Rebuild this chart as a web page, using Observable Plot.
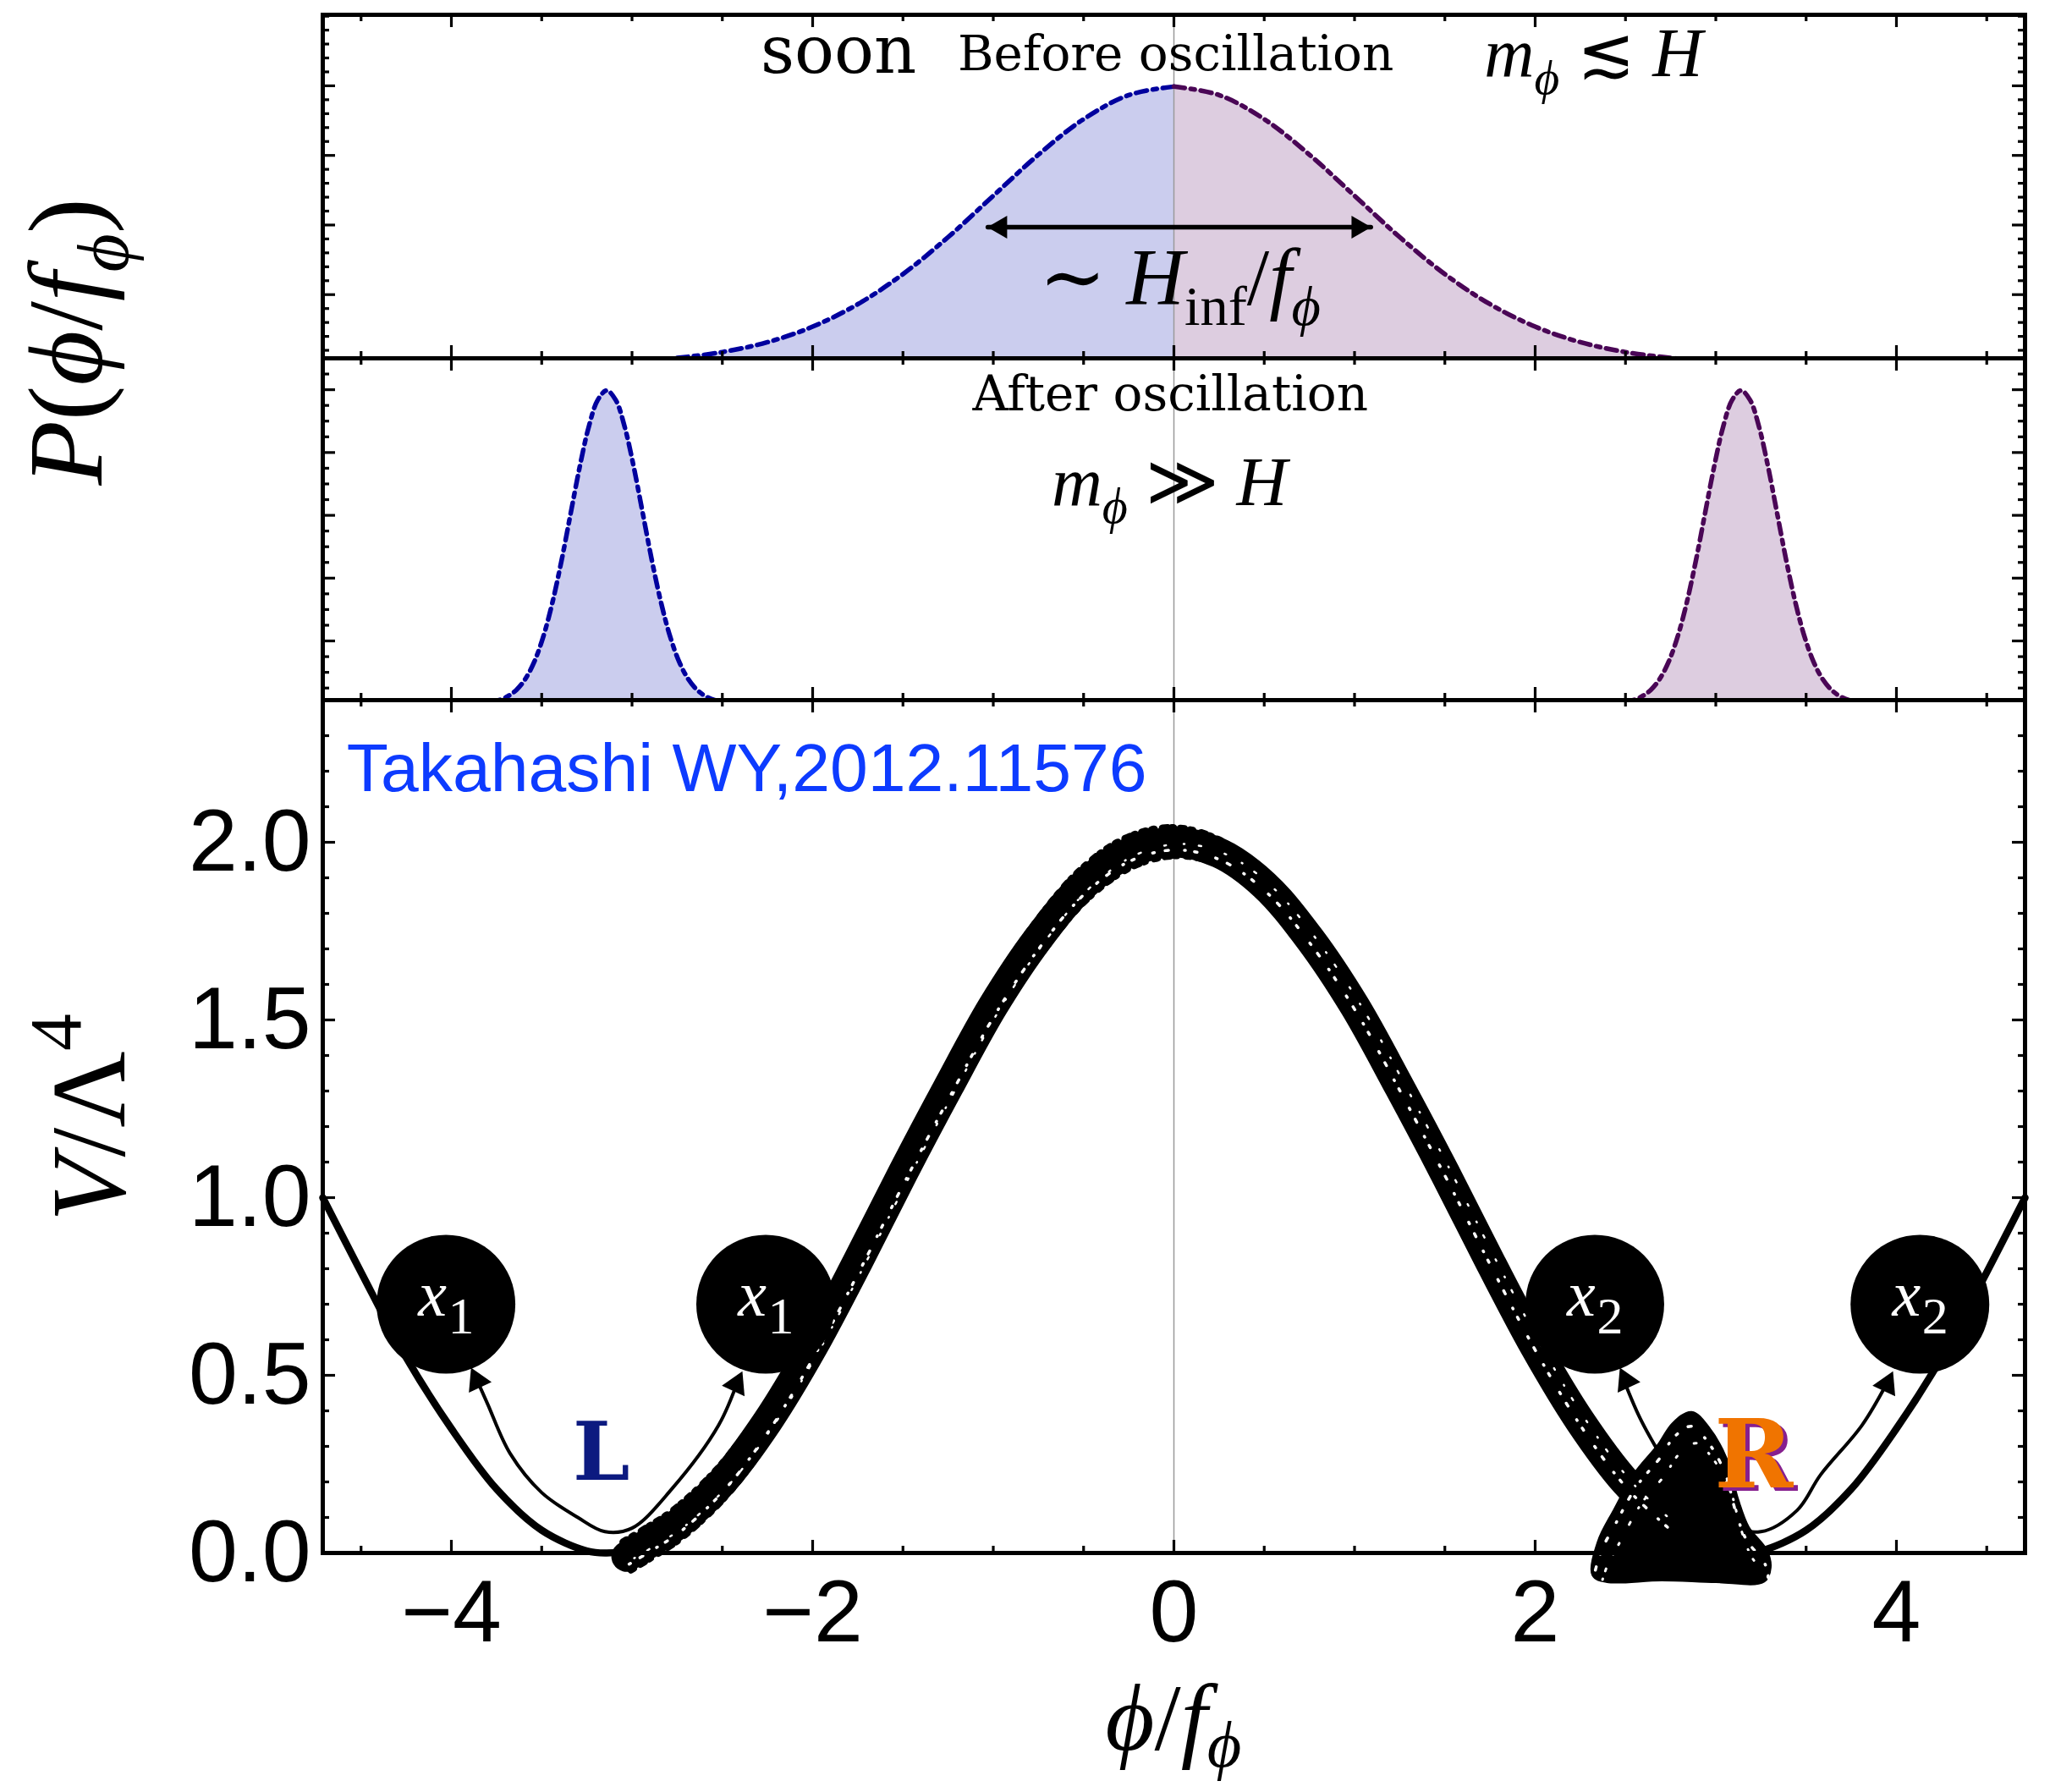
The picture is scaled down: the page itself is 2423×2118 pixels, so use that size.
<!DOCTYPE html>
<html>
<head>
<meta charset="utf-8">
<script src="https://cdn.jsdelivr.net/npm/d3@7"></script>
<script src="https://cdn.jsdelivr.net/npm/@observablehq/plot@0.6"></script>
<style>
  html, body { margin: 0; padding: 0; background: #ffffff; }
  #root { position: relative; width: 2423px; height: 2118px; overflow: hidden; background: #ffffff; }
  #root > svg { position: absolute; left: 0; }
  g[aria-label="typewriter"] text { letter-spacing: 5.5px; }
</style>
</head>
<body>
<div id="root"></div>
<script>
// ================= DATA =================
const xDomain = [-4.712, 4.712];

// Top panel: distribution before oscillation
const beforeX_L = [-2.9, -2.75, -2.5, -2.25, -2, -1.75, -1.5, -1.25, -1, -0.75, -0.5, -0.25, 0];
const beforeP_L = [0.0060, 0.0091, 0.0175, 0.0317, 0.0540, 0.0863, 0.1295, 0.1826, 0.2420, 0.3011, 0.3521, 0.3867, 0.3989];
const beforeX_R = [0, 0.25, 0.5, 0.75, 1, 1.25, 1.5, 1.75, 2, 2.25, 2.5, 2.75, 2.9];
const beforeP_R = [0.3989, 0.3867, 0.3521, 0.3011, 0.2420, 0.1826, 0.1295, 0.0863, 0.0540, 0.0317, 0.0175, 0.0091, 0.0060];
const spreadX = [-1.03, 1.09];     // double arrow ends
const spreadP = 0.197;             // double arrow height

// Middle panel: distribution after oscillation
const afterX_L = [-3.79, -3.74, -3.69, -3.64, -3.59, -3.54, -3.49, -3.44, -3.39, -3.34, -3.29, -3.24, -3.19, -3.14, -3.09, -3.04, -2.99, -2.94, -2.89, -2.84, -2.79, -2.74, -2.69, -2.64, -2.59, -2.54, -2.49];
const afterP_L = [0.010, 0.022, 0.046, 0.088, 0.159, 0.270, 0.432, 0.648, 0.913, 1.210, 1.506, 1.761, 1.934, 1.995, 1.934, 1.761, 1.506, 1.210, 0.913, 0.648, 0.432, 0.270, 0.159, 0.088, 0.046, 0.022, 0.010];
const afterX_R = [2.49, 2.54, 2.59, 2.64, 2.69, 2.74, 2.79, 2.84, 2.89, 2.94, 2.99, 3.04, 3.09, 3.14, 3.19, 3.24, 3.29, 3.34, 3.39, 3.44, 3.49, 3.54, 3.59, 3.64, 3.69, 3.74, 3.79];
const afterP_R = [0.010, 0.022, 0.046, 0.088, 0.159, 0.270, 0.432, 0.648, 0.913, 1.210, 1.506, 1.761, 1.934, 1.995, 1.934, 1.761, 1.506, 1.210, 0.913, 0.648, 0.432, 0.270, 0.159, 0.088, 0.046, 0.022, 0.010];

// Bottom panel: potential V/Λ^4
const potX = [-4.712, -4.5, -4.25, -4, -3.75, -3.5, -3.25, -3.14, -3, -2.75, -2.5, -2.25, -2, -1.75, -1.5, -1.25, -1, -0.75, -0.5, -0.25, 0, 0.25, 0.5, 0.75, 1, 1.25, 1.5, 1.75, 2, 2.25, 2.5, 2.75, 3, 3.14, 3.25, 3.5, 3.75, 4, 4.25, 4.5, 4.712];
const potV = [1.0, 0.79, 0.55, 0.35, 0.18, 0.064, 0.006, 0, 0.01, 0.076, 0.2, 0.37, 0.58, 0.82, 1.07, 1.32, 1.54, 1.73, 1.88, 1.97, 2.0, 1.97, 1.88, 1.73, 1.54, 1.32, 1.07, 0.82, 0.58, 0.37, 0.2, 0.076, 0.01, 0, 0.006, 0.064, 0.18, 0.35, 0.55, 0.79, 1.0];

// hand-drawn trajectory (scribble) along the potential
const scribX = [-3.03, -2.9, -2.75, -2.5, -2.25, -2, -1.75, -1.5, -1.25, -1, -0.75, -0.5, -0.25, 0, 0.25, 0.5, 0.75, 1, 1.25, 1.5, 1.75, 2, 2.25, 2.5, 2.75];
const scribV = [-0.01, 0.03, 0.08, 0.2, 0.37, 0.58, 0.82, 1.07, 1.31, 1.54, 1.73, 1.88, 1.97, 2.0, 1.97, 1.88, 1.73, 1.54, 1.31, 1.07, 0.82, 0.58, 0.37, 0.2, 0.08];
// blob of the trajectory near the right minimum
const blobX = [2.33, 2.36, 2.45, 2.56, 2.69, 2.77, 2.865, 2.95, 3.05, 3.11, 3.17, 3.27, 3.29, 3.26, 3.0, 2.7, 2.4];
const blobV = [-0.06, 0.03, 0.12, 0.22, 0.30, 0.36, 0.39, 0.35, 0.26, 0.15, 0.07, 0.005, -0.04, -0.075, -0.075, -0.07, -0.075];

// curved arrows from the minima to the circles
const arrowLX = [-3.87, -3.80, -3.675, -3.5, -3.30, -3.15, -3.0, -2.78, -2.52, -2.41];
const arrowLV = [0.50, 0.42, 0.28, 0.17, 0.10, 0.06, 0.07, 0.18, 0.36, 0.49];
const arrowRX = [2.48, 2.58, 2.70, 2.85, 3.0, 3.25, 3.45, 3.58, 3.81, 3.96];
const arrowRV = [0.50, 0.38, 0.27, 0.15, 0.09, 0.06, 0.12, 0.22, 0.36, 0.49];
const headLeftX = [-3.89, 2.47];   // heads pointing up-left
const headLeftV = [0.52, 0.52];
const headRightX = [-2.39, 3.98];  // heads pointing up-right
const headRightV = [0.51, 0.51];

// labelled circles
const circleX = [-4.03, -2.26, 2.33, 4.13];
const circleV = [0.70, 0.70, 0.70, 0.70];
const circleSub = ["1", "1", "2", "2"];

// ticks
const xMajorTicks = [-4, -2, 0, 2, 4];
const xMinorTicks = [-4.5, -3.5, -3, -2.5, -1.5, -1, -0.5, 0.5, 1, 1.5, 2.5, 3, 3.5, 4.5];
const xTickLabels = ["\u22124", "\u22122", "0", "2", "4"];
const yTopMajor = [0.1, 0.2, 0.3, 0.4];
const yTopMinor = [0.02, 0.04, 0.06, 0.08, 0.12, 0.14, 0.16, 0.18, 0.22, 0.24, 0.26, 0.28, 0.32, 0.34, 0.36, 0.38, 0.42, 0.44, 0.46, 0.48, 0.5];
const yMidMajor = [0.4, 0.8, 1.2, 1.6, 2.0];
const yMidMinor = [0.1, 0.2, 0.3, 0.5, 0.6, 0.7, 0.9, 1.0, 1.1, 1.3, 1.4, 1.5, 1.7, 1.8, 1.9, 2.1, 2.2];
const yBotMajor = [0, 0.5, 1, 1.5, 2];
const yBotMinor = [0.1, 0.2, 0.3, 0.4, 0.6, 0.7, 0.8, 0.9, 1.1, 1.2, 1.3, 1.4, 1.6, 1.7, 1.8, 1.9, 2.1, 2.2, 2.3, 2.4];
const yBotLabels = ["0.0", "0.5", "1.0", "1.5", "2.0"];

// ================= LAYOUT & STYLE =================
const W = 2423, H = 2118;
const ML = 381, MR = 30, innerW = W - ML - MR;
const topA = 0, hA = 423, mtA = 17, innerHA = hA - mtA;
const topB = 423, hB = 404, innerHB = hB;
const topC = 827, innerHC = 1008, hC = H - topC, mbC = hC - innerHC;

const blue = "#00009e", purple = "#4a0656";
const fillBlue = "#cbcdee", fillPurple = "#ddcde0";
const gray = "#9a9a9a";
const dash = "13,7,5,7";
const serif = "'Liberation Serif', 'Times New Roman', 'DejaVu Serif', serif";
const sans = "'Liberation Sans', Arial, Helvetica, sans-serif";
const typew = "'DejaVu Serif', serif";
const baseStyle = {background: "transparent", overflow: "visible", fontFamily: sans};

const pts = (xs, ys) => xs.map((x, i) => ({x, y: ys[i]}));

function frameTicks(yMaj, yMin, innerH) {
  const o = {stroke: "black", strokeWidth: 3.2};
  const maj = 15, min = 8;
  return [
    Plot.tickX(xMajorTicks, {x: d => d, insetTop: innerH - maj, ...o}),
    Plot.tickX(xMajorTicks, {x: d => d, insetBottom: innerH - maj, ...o}),
    Plot.tickX(xMinorTicks, {x: d => d, insetTop: innerH - min, ...o}),
    Plot.tickX(xMinorTicks, {x: d => d, insetBottom: innerH - min, ...o}),
    Plot.tickY(yMaj, {y: d => d, insetRight: innerW - maj, ...o}),
    Plot.tickY(yMaj, {y: d => d, insetLeft: innerW - maj, ...o}),
    Plot.tickY(yMin, {y: d => d, insetRight: innerW - min, ...o}),
    Plot.tickY(yMin, {y: d => d, insetLeft: innerW - min, ...o}),
    Plot.frame({stroke: "black", strokeWidth: 5})
  ];
}

// ================= TOP PANEL =================
const topLeft = pts(beforeX_L, beforeP_L), topRight = pts(beforeX_R, beforeP_R);
const A = Plot.plot({
  width: W, height: hA, marginTop: mtA, marginBottom: 0, marginLeft: ML, marginRight: MR,
  x: {domain: xDomain, axis: null},
  y: {domain: [0.0085, 0.502], axis: null},
  style: baseStyle,
  marks: [
    Plot.areaY(topLeft, {x: "x", y: "y", fill: fillBlue, curve: "catmull-rom", clip: true}),
    Plot.areaY(topRight, {x: "x", y: "y", fill: fillPurple, curve: "catmull-rom", clip: true}),
    Plot.ruleX([0], {stroke: gray, strokeWidth: 1.5}),
    Plot.line(topLeft, {x: "x", y: "y", stroke: blue, strokeWidth: 5.5, strokeDasharray: dash, curve: "catmull-rom", clip: true}),
    Plot.line(topRight, {x: "x", y: "y", stroke: purple, strokeWidth: 5.5, strokeDasharray: dash, curve: "catmull-rom", clip: true}),
    Plot.line(spreadX, {x: d => d, y: () => spreadP, stroke: "black", strokeWidth: 5.5}),
    Plot.dot([spreadX[0]], {x: d => d, y: () => spreadP, symbol: "triangle", r: 10, rotate: -90, dx: 15, fill: "black", stroke: "none"}),
    Plot.dot([spreadX[1]], {x: d => d, y: () => spreadP, symbol: "triangle", r: 10, rotate: 90, dx: -15, fill: "black", stroke: "none"}),
    Plot.text(["soon"], {x: () => -1.857, y: () => 0.419, text: d => d, lineAnchor: "bottom", fontSize: 78, fontFamily: typew}),
    Plot.text(["Before oscillation"], {x: () => 0.01, y: () => 0.422, text: d => d, lineAnchor: "bottom", fontSize: 58, fontFamily: typew, ariaLabel: "typewriter"}),
    ...frameTicks(yTopMajor, yTopMinor, innerHA)
  ]
});

// ================= MIDDLE PANEL =================
const midLeft = pts(afterX_L, afterP_L), midRight = pts(afterX_R, afterP_R);
const B = Plot.plot({
  width: W, height: hB, marginTop: 0, marginBottom: 0, marginLeft: ML, marginRight: MR,
  x: {domain: xDomain, axis: null},
  y: {domain: [0.023, 2.2], axis: null},
  style: baseStyle,
  marks: [
    Plot.areaY(midLeft, {x: "x", y: "y", fill: fillBlue, curve: "catmull-rom", clip: true}),
    Plot.areaY(midRight, {x: "x", y: "y", fill: fillPurple, curve: "catmull-rom", clip: true}),
    Plot.ruleX([0], {stroke: gray, strokeWidth: 1.5}),
    Plot.line(midLeft, {x: "x", y: "y", stroke: blue, strokeWidth: 5.5, strokeDasharray: dash, curve: "catmull-rom", clip: true}),
    Plot.line(midRight, {x: "x", y: "y", stroke: purple, strokeWidth: 5.5, strokeDasharray: dash, curve: "catmull-rom", clip: true}),
    Plot.text(["After oscillation"], {x: () => -0.02, y: () => 1.866, text: d => d, lineAnchor: "bottom", fontSize: 58, fontFamily: typew, ariaLabel: "typewriter"}),
    ...frameTicks(yMidMajor, yMidMinor, innerHB)
  ]
});

// ================= BOTTOM PANEL =================
const circles = circleX.map((x, i) => ({x, y: circleV[i], sub: circleSub[i]}));
const scrib = pts(scribX, scribV);
const blob = pts(blobX, blobV);
const C = Plot.plot({
  width: W, height: hC, marginTop: 0, marginBottom: mbC, marginLeft: ML, marginRight: MR,
  x: {domain: xDomain, axis: null},
  y: {domain: [0, 2.4], axis: null},
  style: baseStyle,
  marks: [
    Plot.ruleX([0], {stroke: gray, strokeWidth: 1.5}),
    Plot.line(pts(potX, potV), {x: "x", y: "y", stroke: "black", strokeWidth: 8.5, curve: "catmull-rom"}),
    Plot.line(pts(arrowLX, arrowLV), {x: "x", y: "y", stroke: "black", strokeWidth: 4, curve: "catmull-rom"}),
    Plot.line(pts(arrowRX, arrowRV), {x: "x", y: "y", stroke: "black", strokeWidth: 4, curve: "catmull-rom"}),
    Plot.dot(pts(headLeftX, headLeftV), {x: "x", y: "y", symbol: "triangle", r: 11, rotate: -25, dx: 7, dy: 15, fill: "black", stroke: "none"}),
    Plot.dot(pts(headRightX, headRightV), {x: "x", y: "y", symbol: "triangle", r: 11, rotate: 25, dx: -7, dy: 15, fill: "black", stroke: "none"}),
    // hand-drawn trajectory: solid band + blob
    Plot.line(scrib, {x: "x", y: "y", stroke: "#000", strokeWidth: 36, strokeLinecap: "round", strokeLinejoin: "round", curve: "catmull-rom"}),
    Plot.line(blob, {x: "x", y: "y", fill: "#000", stroke: "#000", strokeWidth: 8, strokeLinejoin: "round", curve: "catmull-rom-closed"}),
    // ragged edges of the band
    Plot.line(scrib, {x: "x", y: "y", stroke: "#000", strokeWidth: 9, strokeDasharray: "5,7,3,10,6,5,2,8", curve: "catmull-rom", dy: -17, dx: -4}),
    Plot.line(scrib, {x: "x", y: "y", stroke: "#000", strokeWidth: 8, strokeDasharray: "4,9,6,6,2,11", curve: "catmull-rom", dy: 16, dx: 5}),
    // white specks inside the band
    Plot.line(scrib, {x: "x", y: "y", stroke: "#fff", strokeWidth: 3.5, strokeLinecap: "round", strokeDasharray: "2,13,4,19,1,11,3,23", curve: "catmull-rom", dy: 9, dx: 3}),
    Plot.line(scrib, {x: "x", y: "y", stroke: "#fff", strokeWidth: 2.5, strokeLinecap: "round", strokeDasharray: "1,17,3,29,2,21", curve: "catmull-rom", dy: 2, dx: 9}),
    Plot.line(blob, {x: "x", y: "y", stroke: "#fff", strokeWidth: 3.5, strokeLinecap: "round", strokeDasharray: "2,15,4,21,1,13", curve: "catmull-rom-closed", dy: 14}),
    Plot.line(blob, {x: "x", y: "y", stroke: "#fff", strokeWidth: 3, strokeLinecap: "round", strokeDasharray: "3,19,1,12,2,25", curve: "catmull-rom-closed", dy: 34, dx: 6}),
    Plot.dot(circles, {x: "x", y: "y", r: 82, fill: "black", stroke: "none"}),
    Plot.text(circles, {x: "x", y: "y", text: () => "x", fill: "white", fontStyle: "italic", fontFamily: serif, fontSize: 76, dx: -16, dy: 13, lineAnchor: "bottom"}),
    Plot.text(circles, {x: "x", y: "y", text: "sub", fill: "white", fontFamily: serif, fontSize: 62, dx: 18, dy: 34, lineAnchor: "bottom"}),
    Plot.text(["L"], {x: () => -3.17, y: () => 0.28, text: d => d, fill: "#0c1a80", fontWeight: "bold", fontFamily: typew, fontSize: 96}),
    Plot.text(["R"], {x: () => 3.21, y: () => 0.27, text: d => d, fill: "#86208e", fontWeight: "bold", fontFamily: typew, fontSize: 112, dx: 5, dy: 4}),
    Plot.text(["R"], {x: () => 3.21, y: () => 0.27, text: d => d, fill: "#f07400", fontWeight: "bold", fontFamily: typew, fontSize: 112}),
    Plot.text(["Takahashi WY,2012.11576"], {x: () => -4.58, y: () => 2.143, text: d => d, textAnchor: "start", lineAnchor: "bottom", fill: "#0d3bff", fontSize: 80.5, fontFamily: sans}),
    Plot.text(yBotMajor, {y: d => d, text: (d, i) => yBotLabels[i], frameAnchor: "left", textAnchor: "end", dx: -14, fontSize: 104, fontFamily: sans}),
    Plot.text(xMajorTicks, {x: d => d, text: (d, i) => xTickLabels[i], frameAnchor: "bottom", lineAnchor: "top", dy: 31, fontSize: 104, fontFamily: sans}),
    ...frameTicks(yBotMajor, yBotMinor, innerHC)
  ]
});

// ================= ASSEMBLE =================
const root = document.getElementById("root");
for (const [chart, top] of [[A, topA], [B, topB], [C, topC]]) {
  chart.style.top = top + "px";
  root.appendChild(chart);
}

// scale helpers
function sf(chart, k) {
  const s = chart.scale(k);
  return s.apply ? (v) => s.apply(v) : d3.scaleLinear(s.domain, s.range);
}
const fxA = sf(A, "x"), fyA = sf(A, "y"), fyB = sf(B, "y"), fxC = sf(C, "x");

// math annotation overlay (real text with sub/superscripts)
const ov = d3.create("svg").attr("width", W).attr("height", H)
  .style("top", "0px").style("overflow", "visible").style("pointer-events", "none");
function mathText(px, py, parts, size, {anchor = "start", rotate = 0, fill = "black", sub = 0.25} = {}) {
  const t = ov.append("text").attr("x", px).attr("y", py)
    .attr("font-family", serif).attr("font-size", size)
    .attr("text-anchor", anchor).attr("fill", fill);
  if (rotate) t.attr("transform", `rotate(${rotate},${px},${py})`);
  let shift = 0;
  for (const [s, k] of parts) {
    let target = 0, fs = size;
    if (k[0] === "s") { target = sub * size; fs = 0.7 * size; }
    if (k[0] === "p") { target = -0.42 * size; fs = 0.7 * size; }
    t.append("tspan").text(s)
      .attr("font-style", k.endsWith("i") ? "italic" : "normal")
      .attr("font-size", fs)
      .attr("dy", target - shift);
    shift = target;
  }
}
const NB = "\u00A0";
mathText(fxA(1.72), topA + fyA(0.413), [["m", "i"], ["\u03D5", "si"], [NB + "\u2272" + NB, "r"], ["H", "i"]], 82);
mathText(fxA(-0.745), topA + fyA(0.085), [["\u223C" + NB, "r"], ["H", "i"], ["inf", "sr"], ["/", "r"], ["f", "i"], ["\u03D5", "si"]], 95);
mathText(fxA(-0.675), topB + fyB(1.2625), [["m", "i"], ["\u03D5", "si"], [NB + "\u226B" + NB, "r"], ["H", "i"]], 83);
mathText(120, 404, [["P", "i"], ["(", "r"], ["\u03D5", "i"], ["/", "r"], ["f", "i"], ["\u03D5", "si"], [")", "r"]], 125, {anchor: "middle", rotate: -90});
mathText(147, 1321, [["V", "i"], ["/", "r"], ["\u039B", "r"], ["4", "pr"]], 125, {anchor: "middle", rotate: -90});
mathText(fxC(0), 2068, [["\u03D5", "i"], ["/", "r"], ["f", "i"], ["\u03D5", "si"]], 112, {anchor: "middle", sub: 0.18});
root.appendChild(ov.node());
</script>
</body>
</html>
